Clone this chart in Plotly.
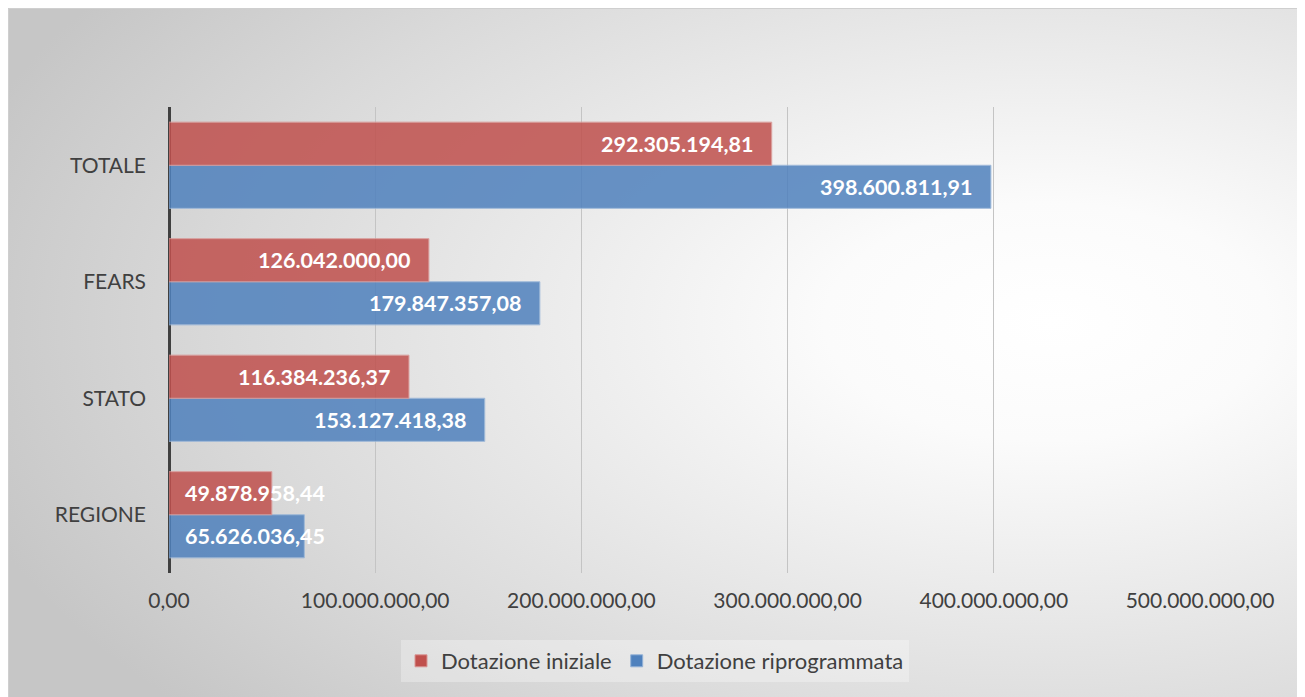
import base64
import plotly.graph_objects as go

# data (bottom to top, as drawn)
categorie = ["REGIONE", "STATO", "FEARS", "TOTALE"]
dotazione_iniziale = [49878958.44, 116384236.37, 126042000.00, 292305194.81]
dotazione_riprogrammata = [65626036.45, 153127418.38, 179847357.08, 398600811.91]
tick_vals = [0, 100000000, 200000000, 300000000, 400000000, 500000000]


def fmt_it(v):
    s = f"{v:,.2f}"
    return s.replace(",", "X").replace(".", ",").replace("X", ".")


tick_text = [fmt_it(v) for v in tick_vals]

W, H = 1305, 697
L, R, T, B = 161, 113, 99, 132
PW, PH = W - L - R, H - T - B
FONT = "Lato"

# radial grey background of the chart area
svg = (
    '<svg xmlns="http://www.w3.org/2000/svg" width="1305" height="697" viewBox="0 0 1305 697" preserveAspectRatio="none">'
    '<defs><radialGradient id="g" cx="0.78" cy="0.45" r="0.85" fx="0.8" fy="0.45">'
    '<stop offset="0" stop-color="#FFFFFF"/>'
    '<stop offset="0.2" stop-color="#FBFBFB"/>'
    '<stop offset="0.72" stop-color="#DADADA"/>'
    '<stop offset="1" stop-color="#C6C6C6"/>'
    '</radialGradient></defs>'
    '<rect x="0" y="0" width="1305" height="697" fill="url(#g)"/>'
    '<path d="M0.5,697 L0.5,0.5 L1305,0.5" fill="none" stroke="#CFCFCF" stroke-width="1"/>'
    '</svg>'
)
bg_src = "data:image/svg+xml;base64," + base64.b64encode(svg.encode()).decode()

fig = go.Figure()
fig.add_trace(go.Bar(
    y=categorie, x=dotazione_riprogrammata, orientation="h",
    name="Dotazione riprogrammata",
    marker=dict(color="#4F81BD", opacity=0.85, line=dict(color="#95B3D7", width=1)),
    hoverinfo="x+name",
))
fig.add_trace(go.Bar(
    y=categorie, x=dotazione_iniziale, orientation="h",
    name="Dotazione iniziale",
    marker=dict(color="#C0504D", opacity=0.85, line=dict(color="#D99694", width=1)),
    hoverinfo="x+name",
))

# data labels: inside end, or from the axis if the bar is too short
annotations = []
for serie, dy in ((dotazione_iniziale, 21.5), (dotazione_riprogrammata, -21.5)):
    for cat, v in zip(categorie, serie):
        corto = v < 80000000
        annotations.append(dict(
            x=0 if corto else v, y=cat, xref="x", yref="y",
            text=f"<b>{fmt_it(v)}</b>", showarrow=False,
            xanchor="left" if corto else "right",
            xshift=14 if corto else -17, yshift=dy,
            font=dict(family=FONT, size=21.5, color="white"),
        ))

fig.update_layout(
    width=W, height=H,
    margin=dict(l=L, r=R, t=T, b=B),
    paper_bgcolor="white",
    plot_bgcolor="rgba(0,0,0,0)",
    barmode="group", bargap=0.26, bargroupgap=0,
    font=dict(family=FONT, size=21, color="#404040"),
    showlegend=True,
    legend=dict(
        orientation="h", traceorder="reversed",
        x=(647 - L) / PW, xanchor="center",
        y=-(653 - (T + PH)) / PH, yanchor="middle",
        bgcolor="rgba(255,255,255,0.3)",
        font=dict(family=FONT, size=22, color="#404040"),
        itemwidth=30,
    ),
    annotations=annotations,
    images=[dict(
        source=bg_src, xref="paper", yref="paper",
        x=-L / PW, y=1 + T / PH,
        sizex=W / PW, sizey=H / PH,
        sizing="stretch", xanchor="left", yanchor="top", layer="below",
    )],
)
fig.update_xaxes(
    range=[0, 500000000], tickvals=tick_vals, ticktext=tick_text,
    showgrid=True, gridcolor="#C4C4C4", gridwidth=1,
    zeroline=True, zerolinecolor="#404040", zerolinewidth=3,
    showline=False, ticks="", ticklabelstandoff=13,
    tickfont=dict(family=FONT, size=21, color="#404040"),
    fixedrange=True,
)
fig.update_yaxes(
    categoryorder="array", categoryarray=categorie,
    showgrid=False, zeroline=False, showline=False, ticks="",
    ticklabelstandoff=22,
    tickfont=dict(family=FONT, size=21, color="#404040"),
    fixedrange=True,
)

fig.write_html("out.html")
